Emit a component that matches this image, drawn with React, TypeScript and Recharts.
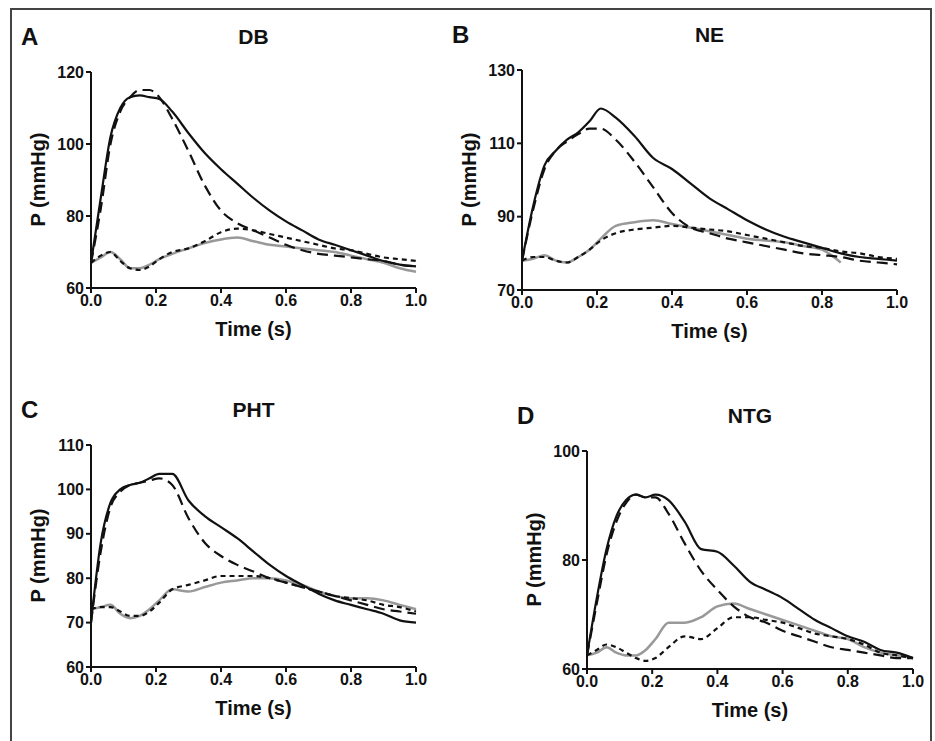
import React from "react";
import { LineChart, Line, XAxis, YAxis } from "recharts";

// sample times (s)
const T = [0, 0.03, 0.06, 0.09, 0.12, 0.15, 0.18, 0.21, 0.25, 0.3, 0.35, 0.4, 0.45, 0.5, 0.55, 0.6, 0.65, 0.7, 0.75, 0.8, 0.85, 0.9, 0.95, 1.0];

const dbSolid = [67, 85, 102, 110, 113, 113.5, 113, 112.5, 109, 103, 97.5, 93, 89, 85, 81.5, 78.5, 76, 73.5, 72, 70.5, 69, 67.5, 66.5, 66];
const dbLong = [67, 82, 100, 109, 113, 115, 115, 113, 107, 98, 88.5, 81.5, 78, 76, 74, 72, 70.5, 69.5, 69, 68.5, 68, 67.5, 66.5, 66];
const dbShort = [67, 69, 70, 67.5, 65.5, 65, 66, 68, 70, 71, 73, 75.5, 76.5, 76, 75, 74, 73, 72, 71, 70.5, 69.5, 68.5, 68, 67.5];
const dbGray = [67, 68.5, 70, 68, 65.5, 65.5, 66.5, 68, 69.5, 71, 72.5, 73.5, 74, 73, 72, 71.5, 71, 70.5, 70, 69, 68, 67, 65.5, 64.5];

const neSolid = [78, 93, 104, 108, 111, 113, 116, 119.5, 117, 112, 106, 103, 99, 95, 92, 89, 86.5, 84.5, 83, 81.5, 80, 79, 78.5, 78];
const neLong = [78, 92, 103, 108, 110.5, 112.5, 114, 114, 111, 105, 98, 91, 87, 85.5, 84, 83, 82, 81, 80, 79.5, 79, 78, 77.5, 77];
const neShort = [78, 79, 79, 78, 77.5, 79, 81, 83.5, 85.5, 86.5, 87, 87.5, 87, 86.5, 86, 85, 84, 83, 82, 81.5, 80.5, 80, 79, 78.5];
const neGray = [78, 78.5, 79.5, 78, 77.5, 79, 81, 84, 87.5, 88.5, 89, 88, 87, 86, 85, 84, 83.5, 83, 82, 81, 77.5, null, null, null];

const phtSolid = [70, 88, 97, 100, 101, 101.5, 102.5, 103.5, 103.5, 97.5, 94, 91.5, 89, 86, 83, 80.5, 78.5, 76.5, 75, 74, 73, 72, 70.5, 70];
const phtLong = [70, 86, 96, 99.5, 101, 101.5, 102, 102.5, 101, 93.5, 88, 85, 83, 81.5, 80, 79, 78, 77, 76, 75, 74, 73, 72.5, 72];
const phtShort = [73, 73.5, 73.5, 72.5, 71.5, 71.5, 72.5, 74.5, 77.5, 78.5, 79.5, 80.5, 80.5, 80.5, 80, 79, 78, 77, 76, 75.5, 75, 74, 73.5, 72.5];
const phtGray = [73, 73.5, 74, 72, 71, 71.5, 73, 75, 77.5, 77, 78, 79, 79.5, 80, 80, 79.5, 78.5, 77, 76, 75.5, 75.5, 75, 74, 73];

const ntgSolid = [62.5, 73, 82, 88, 91, 92, 91.5, 92, 91, 87, 82, 81.5, 79, 76, 74.5, 73, 71, 69, 67.5, 66, 65, 63.5, 63, 62];
const ntgLong = [62.5, 72, 81, 87, 90.5, 92, 91.5, 91.5, 88.5, 83, 78, 74.5, 71.5, 69.5, 68.5, 67, 66, 65, 64, 63.5, 63, 62.5, 62, 62];
const ntgShort = [62.5, 63.5, 64.5, 64, 63, 62, 61.5, 62, 64, 66, 65.5, 67.5, 69.5, 69.5, 69, 68.5, 67.5, 66.5, 66, 65.5, 64.5, 63, 62.5, 62];
const ntgGray = [62.5, 63, 64, 63, 62.5, 62.5, 63.5, 65.5, 68.5, 68.5, 69.5, 71.5, 72, 71, 70, 69, 68, 67, 66, 65.5, 64, 63, 62.5, 62];

const X_TICKS = [0, 0.2, 0.4, 0.6, 0.8, 1.0];

const build = (a: any[], b: any[], c: any[], d: any[]) =>
  T.map((t, i) => ({ t, solid: a[i], long: b[i], short: c[i], gray: d[i] }));

const FONT = "'Liberation Sans', Arial, sans-serif";
const tick = { fontSize: 16, fontWeight: 700, fill: "#111", fontFamily: FONT };

function Panel({ letter, title, data, yTicks, plot }: any) {
  const [px, py, pw, ph] = plot;
  const left = px - 80, top = py - 10;
  const txt: React.CSSProperties = { position: "absolute", fontFamily: FONT, fontWeight: 700, color: "#111", whiteSpace: "nowrap" };
  return (
    <>
      <LineChart
        width={pw + 100}
        height={ph + 70}
        data={data}
        margin={{ top: 10, right: 20, left: 40, bottom: 30 }}
        style={{ position: "absolute", left, top }}
      >
        <XAxis dataKey="t" type="number" domain={[0, 1]} ticks={X_TICKS} tickFormatter={(v: number) => v.toFixed(1)}
          tick={tick} stroke="#111" strokeWidth={2} tickSize={5} height={30} />
        <YAxis type="number" domain={[yTicks[0], yTicks[yTicks.length - 1]]} ticks={yTicks} tick={tick}
          stroke="#111" strokeWidth={2} tickSize={5} width={40} allowDataOverflow />
        <Line dataKey="gray" stroke="#999" strokeWidth={2.5} dot={false} type="monotone" isAnimationActive={false} connectNulls={false} />
        <Line dataKey="short" stroke="#111" strokeWidth={2.2} strokeDasharray="5 4" dot={false} type="monotone" isAnimationActive={false} />
        <Line dataKey="long" stroke="#111" strokeWidth={2.2} strokeDasharray="11 6" dot={false} type="monotone" isAnimationActive={false} />
        <Line dataKey="solid" stroke="#111" strokeWidth={2.2} dot={false} type="monotone" isAnimationActive={false} />
      </LineChart>
      <div style={{ ...txt, left: px - 70, top: py - 49, fontSize: 24 }}>{letter}</div>
      <div style={{ ...txt, left: px + pw / 2 - 60, width: 120, textAlign: "center", top: py - 47, fontSize: 21 }}>{title}</div>
      <div style={{ ...txt, left: px + pw / 2 - 60, width: 120, textAlign: "center", top: py + ph + 30, fontSize: 20 }}>Time (s)</div>
      <div style={{ ...txt, left: px - 108, top: py + ph / 2 - 12, width: 110, textAlign: "center", fontSize: 20, transform: "rotate(-90deg)" }}>P (mmHg)</div>
    </>
  );
}

export default function App() {
  return (
    <div style={{ position: "absolute", left: 0, top: 0, width: 935, height: 741, background: "#fff", overflow: "hidden" }}>
      <div style={{ position: "absolute", left: 10, top: 8, width: 918, height: 760, border: "2px solid #444" }} />
      <Panel letter="A" title="DB" data={build(dbSolid, dbLong, dbShort, dbGray)} yTicks={[60, 80, 100, 120]} plot={[91, 72, 325, 216]} />
      <Panel letter="B" title="NE" data={build(neSolid, neLong, neShort, neGray)} yTicks={[70, 90, 110, 130]} plot={[522, 70, 375, 220]} />
      <Panel letter="C" title="PHT" data={build(phtSolid, phtLong, phtShort, phtGray)} yTicks={[60, 70, 80, 90, 100, 110]} plot={[91, 445, 325, 222]} />
      <Panel letter="D" title="NTG" data={build(ntgSolid, ntgLong, ntgShort, ntgGray)} yTicks={[60, 80, 100]} plot={[587, 451, 326, 218]} />
    </div>
  );
}
